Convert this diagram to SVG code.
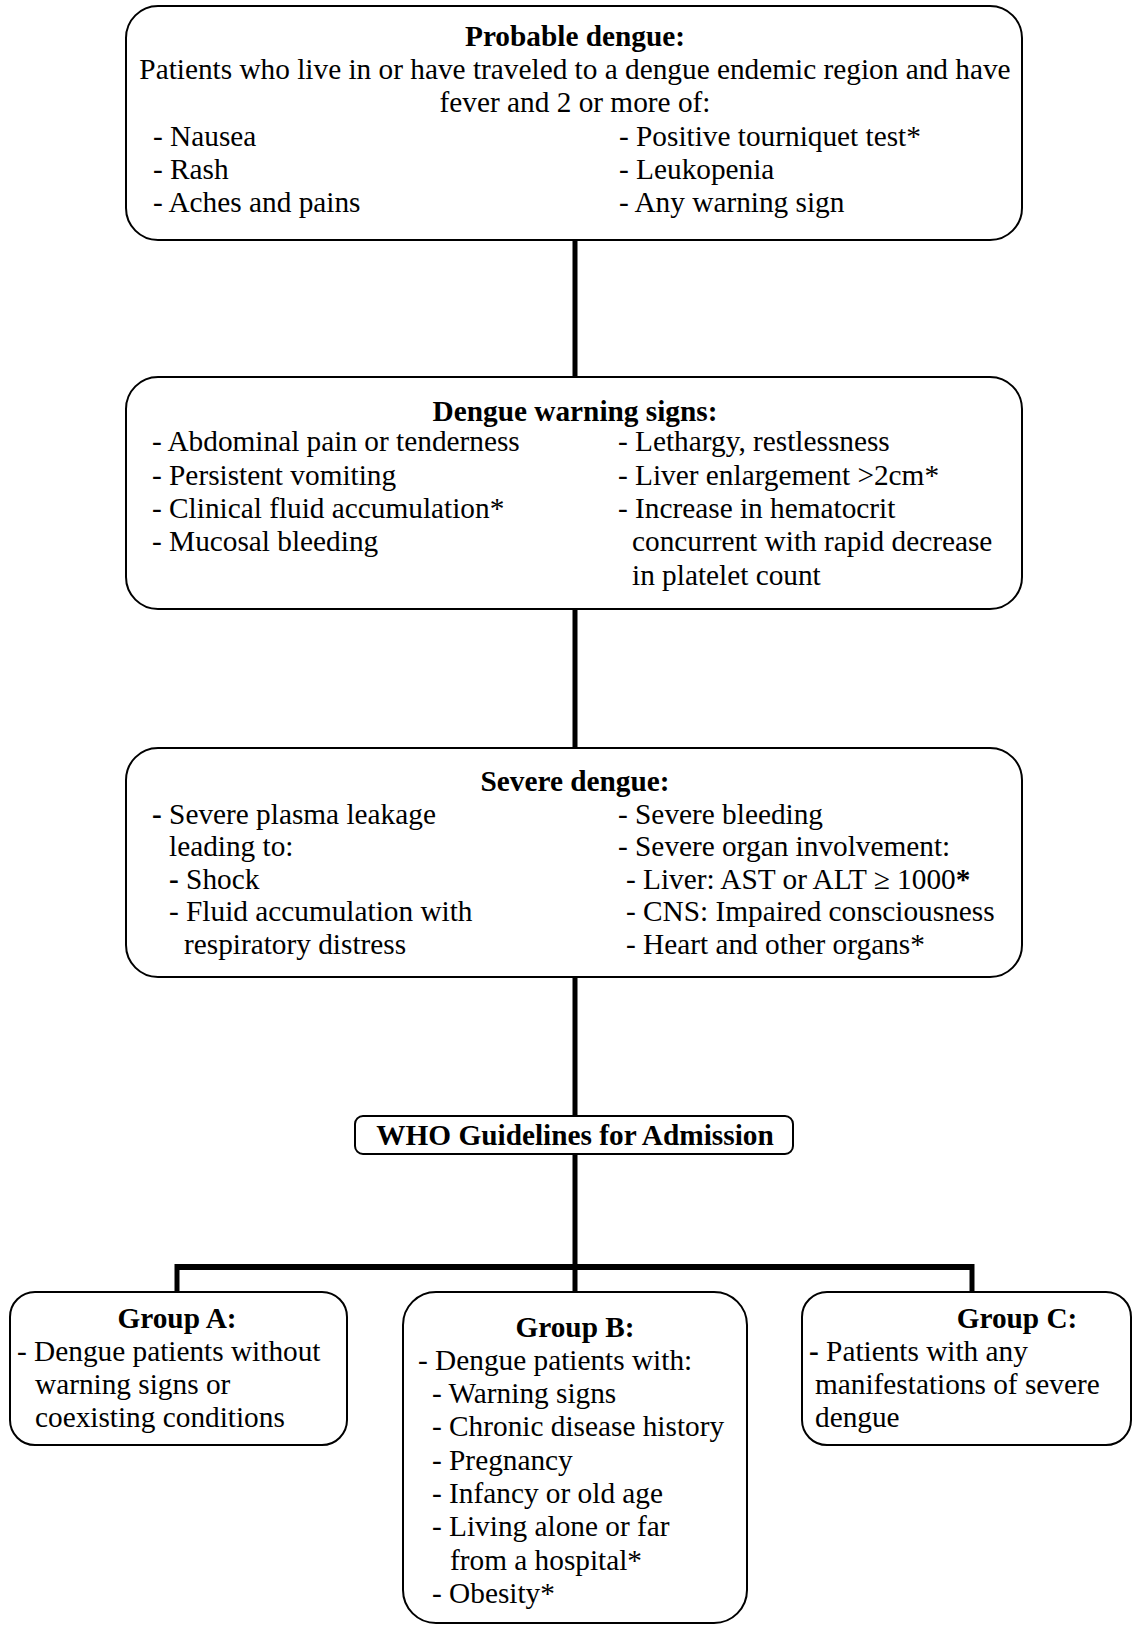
<svg xmlns="http://www.w3.org/2000/svg" width="1133" height="1625" viewBox="0 0 1133 1625">
<style>
.box{fill:#fff;stroke:#000;stroke-width:2}
text{font-family:"Liberation Serif","Times New Roman",serif;font-size:29.3px;fill:#000}
.t{font-weight:bold;text-anchor:middle}
.b{font-weight:bold}
.c{text-anchor:middle}
.con{stroke:#000;stroke-width:5;fill:none}
</style>
<rect width="1133" height="1625" fill="#fff"/>
<g id="connectors">
<line class="con" x1="575" y1="240" x2="575" y2="377"/>
<line class="con" x1="575" y1="609" x2="575" y2="748"/>
<line class="con" x1="575" y1="977" x2="575" y2="1116"/>
<line class="con" x1="575" y1="1154" x2="575" y2="1292"/>
<line class="con" x1="177" y1="1267" x2="972" y2="1267" style="stroke-width:6"/>
<line class="con" x1="177" y1="1264" x2="177" y2="1292"/>
<line class="con" x1="972" y1="1264" x2="972" y2="1292"/>
</g>
<g id="probable">
<rect class="box" x="126" y="6" width="896" height="234" rx="32" ry="32"/>
<text class="t" x="575" y="46">Probable dengue:</text>
<text class="c" x="575" y="79">Patients who live in or have traveled to a dengue endemic region and have</text>
<text class="c" x="575" y="112">fever and 2 or more of:</text>
<text x="153" y="146">- Nausea</text>
<text x="153" y="179">- Rash</text>
<text x="153" y="212">- Aches and pains</text>
<text x="619" y="146">- Positive tourniquet test*</text>
<text x="619" y="179">- Leukopenia</text>
<text x="619" y="212">- Any warning sign</text>
</g>
<g id="warning">
<rect class="box" x="126" y="377" width="896" height="232" rx="32" ry="32"/>
<text class="t" x="575" y="421">Dengue warning signs:</text>
<text x="152" y="451">- Abdominal pain or tenderness</text>
<text x="152" y="484.5">- Persistent vomiting</text>
<text x="152" y="518">- Clinical fluid accumulation*</text>
<text x="152" y="551">- Mucosal bleeding</text>
<text x="618" y="451">- Lethargy, restlessness</text>
<text x="618" y="484.5">- Liver enlargement &gt;2cm*</text>
<text x="618" y="518">- Increase in hematocrit</text>
<text x="632" y="551">concurrent with rapid decrease</text>
<text x="632" y="584.5">in platelet count</text>
</g>
<g id="severe">
<rect class="box" x="126" y="748" width="896" height="229" rx="32" ry="32"/>
<text class="t" x="575" y="791">Severe dengue:</text>
<text x="152" y="823.5"><tspan class="b">-</tspan> Severe plasma leakage</text>
<text x="169" y="856">leading to:</text>
<text x="169" y="888.5"><tspan class="b">-</tspan> Shock</text>
<text x="169" y="921">- Fluid accumulation with</text>
<text x="184" y="953.5">respiratory distress</text>
<text x="618" y="823.5">- Severe bleeding</text>
<text x="618" y="856">- Severe organ involvement:</text>
<text x="626" y="888.5">- Liver: AST or ALT ≥ 1000<tspan class="b">*</tspan></text>
<text x="626" y="921">- CNS: Impaired consciousness</text>
<text x="626" y="953.5">- Heart and other organs*</text>
</g>
<g id="who">
<rect class="box" x="355" y="1116" width="438" height="38" rx="8" ry="8"/>
<text class="t" x="575" y="1145">WHO Guidelines for Admission</text>
</g>
<g id="groupA">
<rect class="box" x="10" y="1292" width="337" height="153" rx="25" ry="25"/>
<text class="t" x="177" y="1328">Group A:</text>
<text x="17" y="1361">- Dengue patients without</text>
<text x="35" y="1394">warning signs or</text>
<text x="35" y="1427">coexisting conditions</text>
</g>
<g id="groupB">
<rect class="box" x="403" y="1292" width="344" height="331" rx="33" ry="33"/>
<text class="t" x="575" y="1337">Group B:</text>
<text x="418" y="1370">- Dengue patients with:</text>
<text x="432" y="1403">- Warning signs</text>
<text x="432" y="1436">- Chronic disease history</text>
<text x="432" y="1470">- Pregnancy</text>
<text x="432" y="1503">- Infancy or old age</text>
<text x="432" y="1536">- Living alone or far</text>
<text x="450" y="1570">from a hospital*</text>
<text x="432" y="1603">- Obesity*</text>
</g>
<g id="groupC">
<rect class="box" x="802" y="1292" width="329" height="153" rx="25" ry="25"/>
<text class="t" x="1017" y="1328">Group C:</text>
<text x="809" y="1361"><tspan class="b">-</tspan> Patients with any</text>
<text x="815" y="1394">manifestations of severe</text>
<text x="815" y="1427">dengue</text>
</g>
</svg>
